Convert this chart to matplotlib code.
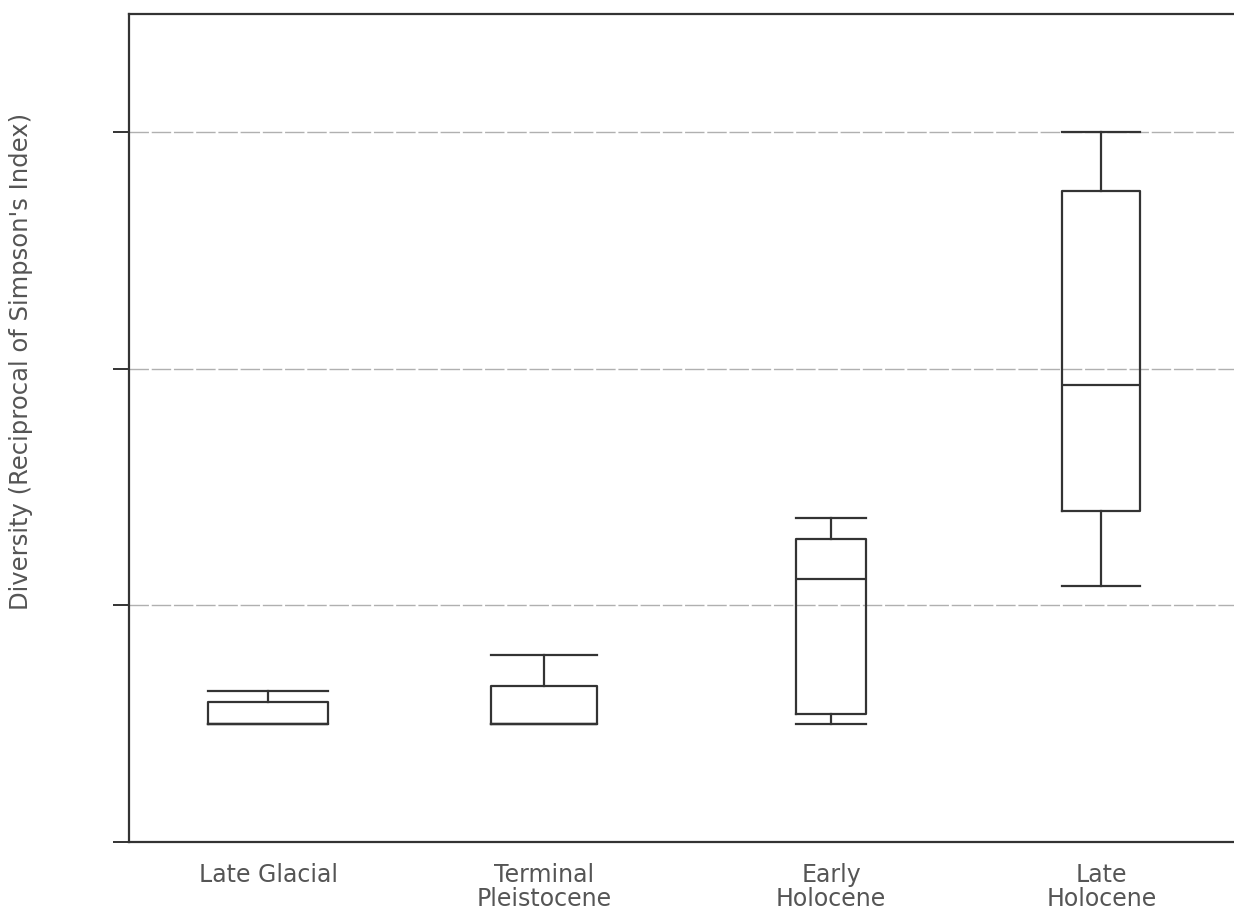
import matplotlib
matplotlib.use('Agg')
import matplotlib.pyplot as plt

# --- data (gridlines = 1 unit apart, no tick labels) ---
periods = ['Late Glacial', 'Terminal\nPleistocene', 'Early\nHolocene', 'Late\nHolocene']
whis_low = [0.50, 0.50, 0.50, 1.08]
q1 = [0.50, 0.50, 0.54, 1.40]
median = [0.50, 0.50, 1.11, 1.93]
q3 = [0.59, 0.66, 1.28, 2.75]
whis_high = [0.64, 0.79, 1.37, 3.00]

# box widths / centres differ slightly per group in the original
box_widths = [0.43, 0.38, 0.25, 0.28]
box_pos = [1, 1.99, 3.02, 3.99]

ink = '#333333'
text_col = '#555555'

fig = plt.figure(figsize=(12.34, 9.13), dpi=100)
ax = fig.add_axes([0.1045, 0.0778, 0.8955, 0.9069])

stats = []
for i, name in enumerate(periods):
    stats.append({'label': name, 'whislo': whis_low[i], 'q1': q1[i], 'med': median[i],
                  'q3': q3[i], 'whishi': whis_high[i], 'fliers': []})

line = dict(color=ink, linewidth=1.6)
ax.bxp(stats, positions=box_pos, widths=box_widths, capwidths=box_widths,
       showfliers=False, boxprops=line, whiskerprops=line, capprops=line,
       medianprops=dict(color=ink, linewidth=1.6), zorder=3)

ax.set_xlim(0.5, 4.466)
ax.set_ylim(0, 3.5)
ax.set_yticks([0, 1, 2, 3])
ax.set_yticklabels([])
ax.yaxis.grid(True, color='#b0b0b0', linewidth=1.0, linestyle=(0, (14, 2)))
ax.set_axisbelow(True)

ax.tick_params(axis='y', direction='out', length=11.5, width=1.4, color=ink)
ax.tick_params(axis='x', length=0, pad=15, labelsize=17, labelcolor=text_col)
for lbl in ax.get_xticklabels():
    lbl.set_verticalalignment('top')
    lbl.set_linespacing(1.0)

for side in ['left', 'bottom', 'top']:
    ax.spines[side].set_color(ink)
    ax.spines[side].set_linewidth(1.6)
ax.spines['right'].set_visible(False)

fig.text(0.017, 1 - 361 / 913, "Diversity (Reciprocal of Simpson's Index)", rotation=90,
         ha='center', va='center', fontsize=17.5, color=text_col)

plt.savefig('out.png', dpi=100, facecolor='white')
